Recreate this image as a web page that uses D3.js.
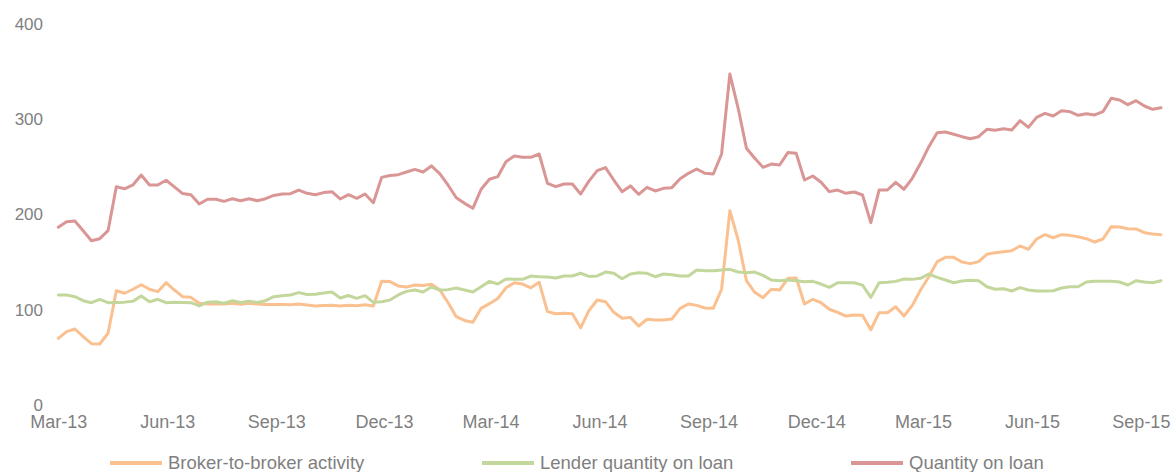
<!DOCTYPE html>
<html>
<head>
<meta charset="utf-8">
<script src="https://cdn.jsdelivr.net/npm/d3@7"></script>
<style>
  html, body { margin: 0; padding: 0; background: #fff; }
  svg text { font-family: "Liberation Sans", Arial, sans-serif; fill: #7f7f7f; }
</style>
</head>
<body>
<svg id="chart" width="1172" height="472"></svg>
<script>
// Weekly observations starting 1 Mar 2013
const startDate = "2013-03-01";
const seriesNames = ["Broker-to-broker activity", "Lender quantity on loan", "Quantity on loan"];
const seriesColors = ["#FAC090", "#C3D69B", "#D99694"];

const brokerToBroker = [
  70, 77, 79.8, 71.7, 64.4, 64, 75.3, 120, 117.3, 121.5,
  126.3, 121.5, 119, 128.4, 120.7, 113.7, 113, 106.8, 106, 106,
  106, 106.8, 105.7, 106.8, 106, 105.4, 105.4, 105.4, 105.3, 106,
  105, 104, 104.5, 104.6, 104, 104.6, 104.3, 105.3, 104, 130,
  129.6, 125, 123.8, 126, 125.5, 126.7, 121, 107.6, 92.7, 88.8,
  86.8, 101.5, 106.4, 111.8, 123, 128.4, 127, 123, 128.8, 98,
  95.8, 96.2, 95.8, 81, 99, 110.2, 108.5, 97.3, 91, 92,
  82.9, 90, 89.2, 89.2, 90.3, 101.5, 106, 104.6, 101.8, 101.5,
  121.5, 204, 173.2, 130.5, 118.3, 112.7, 121.5, 120.7, 133, 133.3,
  106, 111, 107.4, 100.5, 97.3, 93.4, 94.5, 94.3, 79, 96.9,
  96.9, 103.2, 93.4, 104.6, 120.7, 134.7, 150.5, 155, 155, 150.1,
  148.4, 150.5, 158.2, 159.9, 161, 162, 167, 163.4, 174.3, 178.8,
  175.6, 178.8, 178.1, 176.7, 174.6, 171.1, 174.3, 187.2, 186.9, 185.1,
  184.8, 180.9, 179.5, 178.8
];

const lenderQuantity = [
  115.5, 115.5, 113.7, 109.5, 107.4, 111, 107.4, 107.7, 108, 108.8,
  114.4, 108.3, 111, 107.4, 108, 107.7, 107.4, 104, 108, 108.3,
  106.8, 109.5, 107.7, 109, 107.7, 109.5, 113.7, 114.7, 115.5, 118,
  116, 116.2, 117.5, 118.6, 112.3, 115, 112, 114.8, 107.8, 108.5,
  110.2, 115.5, 119.3, 120.7, 118.6, 123.9, 120.7, 121.1, 122.8, 120.7,
  118.6, 124.2, 129.8, 127, 132.3, 131.9, 131.9, 135.4, 134.7, 134.4,
  133.3, 135.4, 135.4, 138.3, 135, 135.5, 139.6, 138.3, 132.6, 137.5,
  138.9, 138.3, 134.7, 137.5, 136.8, 135.4, 135.4, 141.7, 141, 141,
  141.7, 142.4, 139.6, 138.9, 139.6, 136.1, 131.2, 130.5, 131.2, 130.5,
  129.5, 129.8, 127, 123.5, 128.4, 128.4, 128.4, 125.8, 113, 128.4,
  128.8, 129.8, 132.3, 131.9, 133, 137.5, 134, 131.2, 128.4, 130.2,
  130.9, 130.5, 124.2, 121.5, 122.1, 119.7, 123.2, 120.7, 119.7, 119.7,
  120, 122.8, 124.2, 124.2, 129.1, 129.8, 129.8, 129.8, 129.1, 126,
  130.5, 129.1, 128.4, 130.5
];

const quantityOnLoan = [
  186.6, 192.5, 193.2, 183, 172.5, 174.6, 183, 229.2, 227, 231,
  241.5, 231, 231, 236, 229, 222, 220.8, 211, 216, 216,
  213.8, 216.6, 214.5, 216.6, 214.5, 216.6, 220, 221.5, 221.8, 225.7,
  222.2, 220.8, 223, 224, 216.3, 220.8, 217, 221.5, 212.4, 239,
  241, 241.8, 244.6, 247.4, 244.6, 251, 243, 231, 217.6, 211.7,
  206.5, 226.5, 237, 239.7, 255.5, 261.4, 260, 260, 263.5, 232.7,
  229.2, 232, 232, 221.5, 235, 246, 249.2, 236.2, 224, 230,
  221.2, 228.5, 224.7, 227.5, 228.2, 237.6, 243.2, 247.8, 243.2, 242.5,
  263.5, 347.5, 311.5, 269.5, 259, 249.5, 253, 252, 265, 264.2,
  236.2, 240.4, 233.8, 224, 225.7, 222.2, 223.6, 220.5, 191.4, 225.7,
  225.7, 233.8, 226.5, 238, 253.7, 271.2, 285.9, 286.6, 284.2, 281.7,
  279.6, 281.7, 289.4, 288.4, 290.1, 288.7, 298.5, 291.5, 302, 306.2,
  303.4, 309, 308, 304.1, 305.8, 304.5, 308, 322, 320.2, 315.3,
  319.5, 313.9, 310.4, 312.1
];

const xTickLabels = ["Mar-13","Jun-13","Sep-13","Dec-13","Mar-14","Jun-14","Sep-14","Dec-14","Mar-15","Jun-15","Sep-15"];
const yTicks = [0, 100, 200, 300, 400];

const parseDay = d3.timeParse("%Y-%m-%d");
const parseTick = d3.timeParse("%b-%y");
const t0 = parseDay(startDate);
const dates = brokerToBroker.map((_, i) => d3.timeDay.offset(t0, i * 7));
const allSeries = [brokerToBroker, lenderQuantity, quantityOnLoan];

const svg = d3.select("#chart");

const x = d3.scaleTime()
  .domain([dates[0], dates[dates.length - 1]])
  .range([58.3, 1161]);
const y = d3.scaleLinear().domain([0, 400]).range([405, 24]);

// Y axis
const yAxis = svg.append("g")
  .attr("transform", "translate(43,0)")
  .call(d3.axisLeft(y).tickValues(yTicks).tickSize(0).tickPadding(0).tickFormat(d3.format("d")));
yAxis.select(".domain").remove();
yAxis.selectAll("text").style("font-size", "17px").style("fill", "#7f7f7f")
  .style("font-family", "'Liberation Sans', Arial, sans-serif");

// X axis
const tickDates = xTickLabels.map(s => parseTick(s));
const xAxis = svg.append("g")
  .attr("transform", "translate(0,415)")
  .call(d3.axisBottom(x).tickValues(tickDates).tickSize(0).tickPadding(0)
    .tickFormat((d, i) => xTickLabels[i]));
xAxis.select(".domain").remove();
xAxis.selectAll("text").style("font-size", "18px").style("fill", "#7f7f7f")
  .style("font-family", "'Liberation Sans', Arial, sans-serif");

// Lines
const line = d3.line()
  .x((d, i) => x(dates[i]))
  .y(d => y(d));

allSeries.forEach((s, k) => {
  svg.append("path")
    .datum(s)
    .attr("fill", "none")
    .attr("stroke", seriesColors[k])
    .attr("stroke-width", 3)
    .attr("stroke-linejoin", "round")
    .attr("stroke-linecap", "round")
    .attr("d", line);
});

// Legend
const legendX = [110, 482, 851];
const legend = svg.append("g");
seriesNames.forEach((name, k) => {
  const g = legend.append("g").attr("transform", `translate(${legendX[k]},463)`);
  g.append("line").attr("x1", 0).attr("x2", 52).attr("y1", 0).attr("y2", 0)
    .attr("stroke", seriesColors[k]).attr("stroke-width", 4);
  g.append("text").attr("x", 58).attr("y", 0).attr("dy", "0.35em")
    .style("font-size", "18.5px").text(name);
});
</script>
</body>
</html>
